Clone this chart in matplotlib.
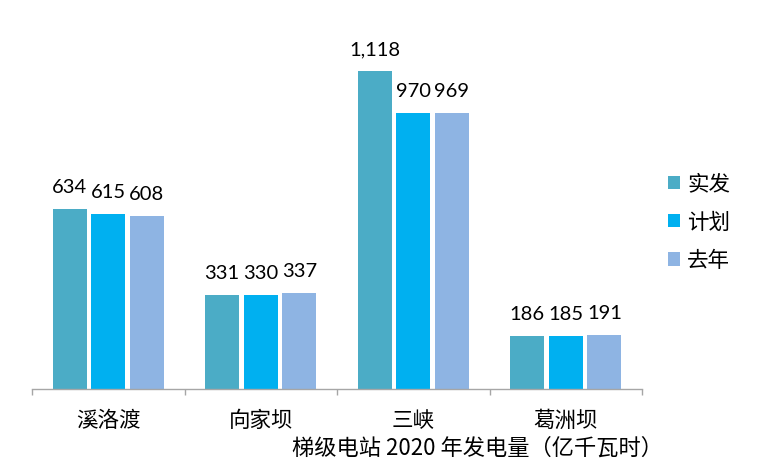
import matplotlib
matplotlib.use("Agg")
import matplotlib.pyplot as plt
import numpy as np

categories = ["溪洛渡", "向家坝", "三峡", "葛洲坝"]
series_names = ["实发", "计划", "去年"]
actual = [634, 331, 1118, 186]
plan = [615, 330, 970, 185]
last_year = [608, 337, 969, 191]
value_labels = [
    ["634", "331", "1,118", "186"],
    ["615", "330", "970", "185"],
    ["608", "337", "969", "191"],
]
axis_title = "梯级电站 2020 年发电量（亿千瓦时）"

colors = ["#4BACC6", "#00B0F0", "#8EB4E3"]
cjk = ["Noto Sans CJK SC", "DejaVu Sans"]
num_font = ["Lato", "DejaVu Sans"]

W, H = 763, 473
fig = plt.figure(figsize=(W / 100, H / 100), dpi=100)
left_px, right_px, bottom_px, top_px = 32, 642, 389, 20
ax = fig.add_axes([left_px / W, 1 - bottom_px / H,
                   (right_px - left_px) / W, (bottom_px - top_px) / H])

px_per_unit = (389 - 71) / 1118.0
ymax = (bottom_px - top_px) / px_per_unit

x = np.arange(len(categories)) + 0.5
step = 0.2535
width = 0.223
all_series = [actual, plan, last_year]
for i, (vals, name, col) in enumerate(zip(all_series, series_names, colors)):
    xs = x + (i - 1) * step
    bars = ax.bar(xs, vals, width=width, color=col, label=name, linewidth=0)
    for b, lab in zip(bars, value_labels[i]):
        ax.annotate(lab, (b.get_x() + b.get_width() / 2, b.get_height()),
                    xytext=(0, 11.5), textcoords="offset points",
                    ha="center", va="baseline", fontsize=14.5,
                    family=num_font, color="black")

ax.set_xlim(0, len(categories))
ax.set_ylim(0, ymax)
for s in ["left", "right", "top"]:
    ax.spines[s].set_visible(False)
ax.spines["bottom"].set_color("#A6A6A6")
ax.spines["bottom"].set_linewidth(1.0)
ax.set_yticks([])
ax.set_xticks(np.arange(len(categories) + 1))
ax.set_xticklabels([])
ax.tick_params(axis="x", which="major", length=4.5, width=1.0, color="#A6A6A6")
ax.set_xticks(x, minor=True)
ax.set_xticklabels(categories, minor=True, family=cjk, fontsize=15.5, color="black")
ax.tick_params(axis="x", which="minor", length=0, pad=15)

ax.set_xlabel(axis_title, family=cjk, fontsize=16, color="black", va="center")
ax.xaxis.set_label_coords((478 - left_px) / (right_px - left_px),
                          -(448 - bottom_px) / (bottom_px - top_px))

leg = ax.legend(loc="center left", bbox_to_anchor=(668 / W, 1 - 222.5 / H),
                bbox_transform=fig.transFigure, frameon=False,
                prop={"family": cjk, "size": 15.5},
                handlelength=0.56, handleheight=0.56, handletextpad=0.33,
                labelspacing=0.75, borderpad=0, borderaxespad=0)

fig.savefig("out.png", dpi=100)
